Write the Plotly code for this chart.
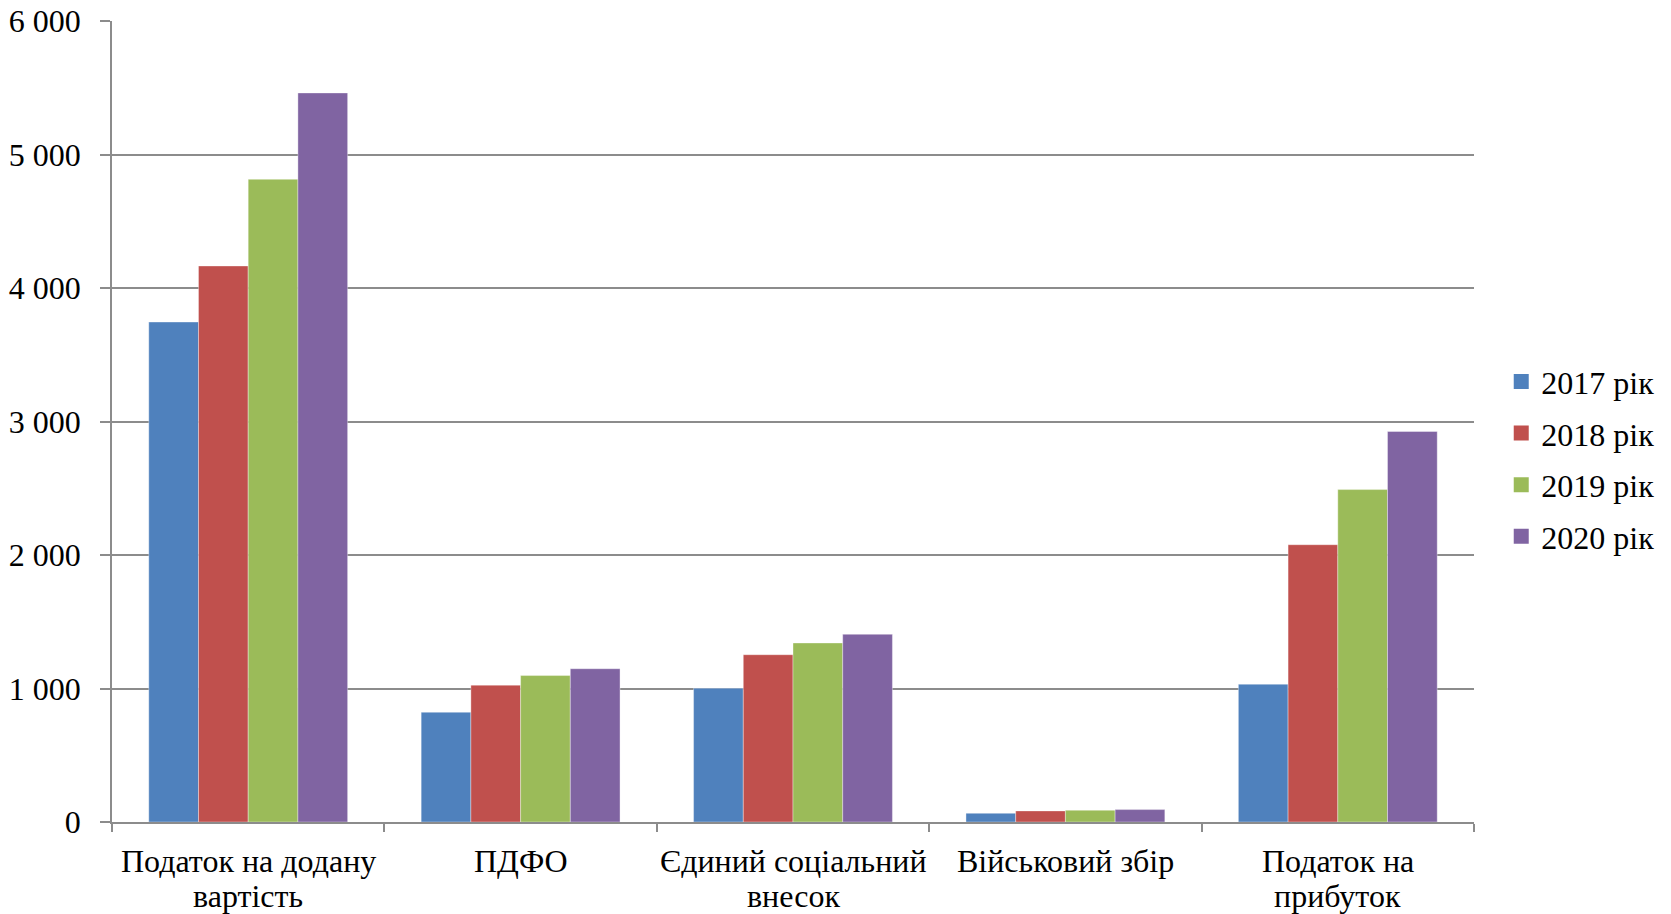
import plotly.graph_objects as go

categories = ["Податок на додану<br>вартість", "ПДФО", "Єдиний соціальний<br>внесок",
              "Військовий збір", "Податок на<br>прибуток"]
series_names = ["2017 рік", "2018 рік", "2019 рік", "2020 рік"]
v2017 = [3745, 822, 1002, 65, 1032]
v2018 = [4165, 1025, 1253, 83, 2077]
v2019 = [4814, 1097, 1341, 88, 2490]
v2020 = [5461, 1148, 1406, 93, 2925]
values = [v2017, v2018, v2019, v2020]
colors = ["#4F81BD", "#C0504D", "#9BBB59", "#8064A2"]
y_ticks = [0, 1000, 2000, 3000, 4000, 5000, 6000]

FONT = "Liberation Serif"
FS = 32

fig = go.Figure()
for name, vals, col in zip(series_names, values, colors):
    fig.add_trace(go.Bar(
        x=categories, y=vals, name=name, legendgroup=name, showlegend=False,
        marker=dict(color=col, line=dict(width=0.6, color="rgba(255,255,255,0.6)")),
    ))
# legend entries with larger square swatches (as in the reference)
for name, col in zip(series_names, colors):
    fig.add_trace(go.Scatter(
        x=[None], y=[None], mode="markers", name=name, legendgroup=name,
        marker=dict(symbol="square", size=15, color=col, line=dict(width=0)),
        hoverinfo="skip",
    ))

# category labels, one annotation per line (tighter line spacing as in the reference)
line_y = [-0.0487, -0.0924]
for cat in categories:
    for j, line in enumerate(cat.split("<br>")):
        fig.add_annotation(x=cat, xref="x", y=line_y[j], yref="paper",
                           xanchor="center", yanchor="middle", showarrow=False,
                           text=line, font=dict(family=FONT, size=FS, color="black"))

fig.update_layout(
    width=1671, height=914,
    margin=dict(l=112, r=197, t=21, b=92, autoexpand=False),
    paper_bgcolor="white", plot_bgcolor="white",
    barmode="group", bargap=0.27, bargroupgap=0,
    separators=", ",
    font=dict(family=FONT, size=FS, color="black"),
    legend=dict(x=1.02, xanchor="left", y=0.453, yanchor="middle",
                font=dict(family=FONT, size=FS, color="black"),
                tracegroupgap=7, itemwidth=30, bgcolor="rgba(0,0,0,0)"),
    showlegend=True,
)
fig.update_yaxes(
    range=[0, 6000], tickvals=y_ticks, tickformat=",d", automargin=False,
    showgrid=True, gridcolor="#8C8C8C", gridwidth=1.5,
    showline=True, linecolor="#8C8C8C", linewidth=1.5,
    ticks="outside", ticklen=10, tickcolor="#8C8C8C", tickwidth=1.5,
    ticklabelstandoff=13, zeroline=False,
    tickfont=dict(family=FONT, size=FS, color="black"),
)
fig.update_xaxes(
    tickson="boundaries", showgrid=False, automargin=False,
    showline=True, linecolor="#8C8C8C", linewidth=1.5,
    ticks="outside", ticklen=8, tickcolor="#8C8C8C", tickwidth=1.5,
    showticklabels=False,
)

fig.write_html("out.html")
